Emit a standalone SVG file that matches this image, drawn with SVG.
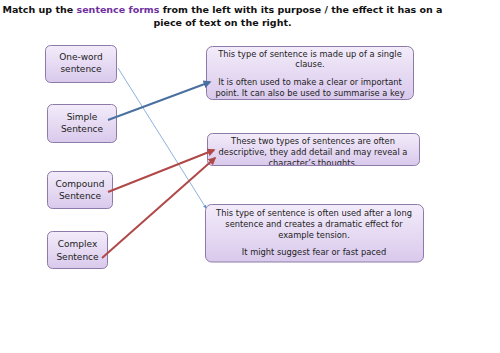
<svg xmlns="http://www.w3.org/2000/svg" width="500" height="353" viewBox="0 0 500 353">
<defs>
<linearGradient id="g" x1="0" y1="0" x2="0" y2="1">
<stop offset="0" stop-color="#f3ecfa"/>
<stop offset="1" stop-color="#d9c9ec"/>
</linearGradient>
<marker id="ab" viewBox="0 0 10 10" refX="8" refY="5" markerWidth="4" markerHeight="4" orient="auto"><path d="M0,0 L10,5 L0,10 z" fill="#4a70a0"/></marker>
<marker id="ar" viewBox="0 0 10 10" refX="8" refY="5" markerWidth="4" markerHeight="4" orient="auto"><path d="M0,0 L10,5 L0,10 z" fill="#b04848"/></marker>
<marker id="at" viewBox="0 0 10 10" refX="8" refY="5" markerWidth="5" markerHeight="5" orient="auto"><path d="M0,0 L10,5 L0,10 z" fill="#5b8fd0"/></marker>
<clipPath id="c1"><rect x="206" y="46" width="207" height="53" rx="6"/></clipPath>
<clipPath id="c2"><rect x="207" y="133" width="213" height="32" rx="5"/></clipPath>
<clipPath id="c3"><rect x="205" y="204" width="219" height="58" rx="6"/></clipPath>
</defs>
<style>
.box{fill:url(#g);stroke:#8d7aa8;stroke-width:1}
.t{font-family:"DejaVu Sans",sans-serif;font-size:9px;fill:#222;text-anchor:middle}
.s{font-family:"DejaVu Sans",sans-serif;font-size:8.3px;fill:#222;text-anchor:middle}
.h{font-family:"DejaVu Sans",sans-serif;font-size:9.5px;font-weight:bold;fill:#111;text-anchor:middle}
</style>
<rect width="500" height="353" fill="#fff"/>
<g id="title">
<text class="h" x="222.5" y="13">Match up the <tspan fill="#7030a0">sentence forms</tspan> from the left with its purpose / the effect it has on a</text>
<text class="h" x="222.5" y="26">piece of text on the right.</text>
</g>
<g id="one-word">
<rect class="box" x="45.5" y="45.5" width="71" height="37" rx="5"/>
<text class="t" x="81" y="60">One-word</text>
<text class="t" x="81" y="72">sentence</text>
</g>
<g id="simple">
<rect class="box" x="47.5" y="104.5" width="69" height="38" rx="5"/>
<text class="t" x="82" y="120">Simple</text>
<text class="t" x="82" y="132">Sentence</text>
</g>
<g id="compound">
<rect class="box" x="47.5" y="171.5" width="65" height="37" rx="5"/>
<text class="t" x="80" y="187">Compound</text>
<text class="t" x="80" y="199">Sentence</text>
</g>
<g id="complex">
<rect class="box" x="47.5" y="231.5" width="60" height="37" rx="5"/>
<text class="t" x="77.5" y="247">Complex</text>
<text class="t" x="77.5" y="260">Sentence</text>
</g>
<g id="desc1">
<rect class="box" x="206.5" y="46.5" width="207" height="53" rx="6"/>
<g clip-path="url(#c1)">
<text class="s" x="310" y="57">This type of sentence is made up of a single</text>
<text class="s" x="310" y="67">clause.</text>
<text class="s" x="310" y="85">It is often used to make a clear or important</text>
<text class="s" x="310" y="96">point. It can also be used to summarise a key</text>
</g>
</g>
<g id="desc2">
<rect class="box" x="207.5" y="133.5" width="212" height="32" rx="5"/>
<g clip-path="url(#c2)">
<text class="s" x="313" y="144">These two types of sentences are often</text>
<text class="s" x="313" y="155">descriptive, they add detail and may reveal a</text>
<text class="s" x="313" y="166">character’s thoughts.</text>
</g>
</g>
<g id="desc3">
<rect class="box" x="205.5" y="204.5" width="218" height="57.5" rx="6"/>
<g clip-path="url(#c3)">
<text class="s" x="314" y="216">This type of sentence is often used after a long</text>
<text class="s" x="314" y="227">sentence and creates a dramatic effect for</text>
<text class="s" x="314" y="237.5">example tension.</text>
<text class="s" x="314" y="255">It might suggest fear or fast paced</text>
</g>
</g>
<g id="connectors" fill="none">
<line x1="118" y1="68" x2="206" y2="208" stroke="#5b8fd0" stroke-width="0.7" marker-end="url(#at)"/>
<line x1="108" y1="120" x2="210" y2="82" stroke="#4a70a0" stroke-width="2" marker-end="url(#ab)"/>
<line x1="108" y1="192" x2="214" y2="150" stroke="#b04848" stroke-width="2" marker-end="url(#ar)"/>
<line x1="102" y1="258" x2="215" y2="158" stroke="#b04848" stroke-width="2" marker-end="url(#ar)"/>
</g>
</svg>
